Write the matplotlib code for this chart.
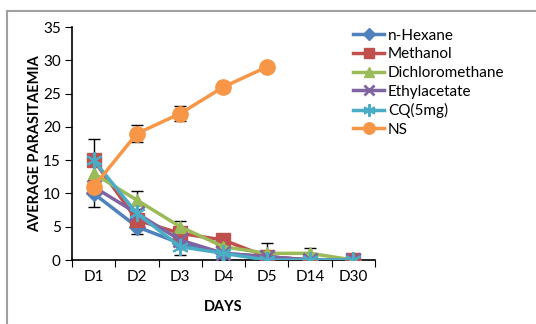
import matplotlib
matplotlib.use("Agg")
import matplotlib.pyplot as plt
import matplotlib.patches as patches
import numpy as np

plt.rcParams['font.family'] = ['Lato', 'DejaVu Sans']

days = ["D1", "D2", "D3", "D4", "D5", "D14", "D30"]

# values
hexane = [10, 5, 2.5, 1, 0.5, 0, 0]
methanol = [15, 6, 4, 3, 0.5, 0, 0]
dichloro = [13, 9, 5, 2, 1, 1, 0]
ethyl = [11, 7, 3, 1, 0.5, 0, 0]
cq = [15, 7, 2, 1, 0, 0, 0]
ns = [11, 19, 22, 26, 29]

# error bars (only the visible ones)
hexane_err = [2, 1.1, 0, 1.9, 0, 0, 0]
methanol_err = [3.2, 0, 0, 0, 2, 0, 0]
dichloro_err = [0, 1.3, 0.8, 0, 0, 0.8, 0.2]
cq_err = [0, 0, 1.2, 0, 0, 0, 0]
ns_err = [0, 1.3, 1.1, 0.8, 0]

series = [
    ("n-Hexane", hexane, hexane_err, "#4F81BD", "D", 8),
    ("Methanol", methanol, methanol_err, "#C0504D", "s", 10),
    ("Dichloromethane", dichloro, dichloro_err, "#9BBB59", "^", 9),
    ("Ethylacetate", ethyl, None, "#8064A2", "x", 10),
    ("CQ(5mg)", cq, cq_err, "#4BACC6", "*", 0),
    ("NS", ns, ns_err, "#F79646", "o", 11),
]

fig = plt.figure(figsize=(5.36, 3.24), dpi=100)
ax = fig.add_axes([0.1343, 0.1975, 0.5653, 0.7191])

handles = []
for name, vals, err, color, mk, ms in series:
    x = np.arange(len(vals))
    if err is not None:
        e = np.array(err, dtype=float)
        sel = e > 0
        ax.errorbar(x[sel], np.array(vals)[sel], yerr=e[sel], fmt='none',
                    ecolor='black', elinewidth=1, capsize=4, capthick=1, zorder=1)
    if name == "CQ(5mg)":
        h, = ax.plot(x, vals, color=color, lw=2.5, marker=(6, 2, 0), ms=12,
                     mew=1.5, zorder=3, label=name)
    elif mk == "x":
        h, = ax.plot(x, vals, color=color, lw=2.5, marker=mk, ms=ms,
                     mew=2, zorder=3, label=name)
    else:
        h, = ax.plot(x, vals, color=color, lw=2.5, marker=mk, ms=ms,
                     mec=color, zorder=3, label=name)
    handles.append(h)

ax.set_xlim(-0.5, 6.5)
ax.set_ylim(0, 35)
ax.set_yticks(range(0, 36, 5))
ax.set_xticks(np.arange(-0.5, 7, 1))
ax.set_xticklabels([])
ax.set_xticks(np.arange(7), minor=True)
ax.set_xticklabels(days, minor=True)
ax.tick_params(axis='x', which='minor', length=0, pad=7, labelsize=11)
ax.tick_params(axis='x', which='major', length=5, direction='out')
ax.tick_params(axis='y', length=5, labelsize=11, pad=3)
for s in ["top", "right"]:
    ax.spines[s].set_visible(False)
ax.spines["left"].set_linewidth(1.2)
ax.spines["bottom"].set_linewidth(1.2)

ax.set_xlabel("DAYS", fontweight="bold", fontsize=10.5, labelpad=12)
ax.set_ylabel("AVERAGE PARASITAEMIA", fontweight="bold", fontsize=10.5, labelpad=1)

fig.legend(handles=handles, loc="upper left", bbox_to_anchor=(0.648, 0.93),
           frameon=False, fontsize=11, handlelength=2.0, handletextpad=0.25,
           labelspacing=0.3, borderaxespad=0, markerscale=0.75)

# grey frame around the chart area
fig.patches.append(patches.Rectangle((7 / 536, -0.5), 2, 1.5 - 10.5 / 324,
                                     transform=fig.transFigure, fill=False,
                                     edgecolor="#a0a0a0", lw=1.5))

fig.savefig("out.png", dpi=100)
